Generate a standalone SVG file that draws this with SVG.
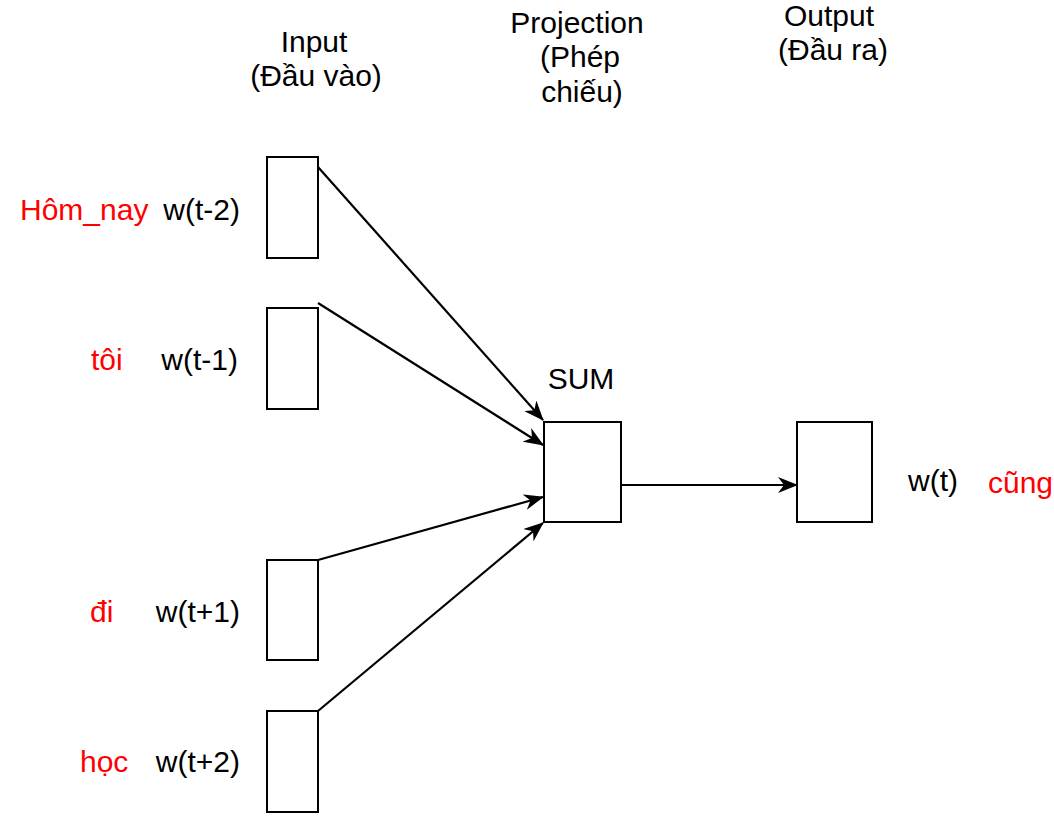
<svg xmlns="http://www.w3.org/2000/svg" width="1054" height="838" viewBox="0 0 1054 838">
  <style>
    .box { fill: #ffffff; stroke: #000000; stroke-width: 2; }
    .edge { fill: none; stroke: #000000; stroke-width: 2.2; }
    text { font-family: "Liberation Sans", Arial, Helvetica, sans-serif; font-size: 30px; fill: #000000; }
    .red { fill: #ff0000; }
    .mid { text-anchor: middle; }
    .end { text-anchor: end; }
  </style>
  <defs>
    <marker id="arrow" viewBox="0 0 20 16" markerWidth="20" markerHeight="16" refX="19" refY="8" orient="auto" markerUnits="userSpaceOnUse">
      <path d="M0,0 L20,8 L0,16 L6,8 Z" fill="#000000"/>
    </marker>
  </defs>
  <rect width="1054" height="838" fill="#ffffff"/>

  <g id="headers">
    <text class="mid" x="314" y="52">Input</text>
    <text class="mid" x="316" y="86">(Đầu vào)</text>
    <text class="mid" x="577" y="33">Projection</text>
    <text class="mid" x="580" y="67">(Phép</text>
    <text class="mid" x="582" y="102">chiếu)</text>
    <text class="mid" x="829" y="26">Output</text>
    <text class="mid" x="833" y="60">(Đầu ra)</text>
  </g>

  <g id="connectors">
    <line class="edge" x1="318" y1="167" x2="543" y2="420" marker-end="url(#arrow)"/>
    <line class="edge" x1="318" y1="303" x2="543" y2="445" marker-end="url(#arrow)"/>
    <line class="edge" x1="318" y1="560" x2="543" y2="497" marker-end="url(#arrow)"/>
    <line class="edge" x1="318" y1="711" x2="543" y2="523" marker-end="url(#arrow)"/>
    <line class="edge" x1="621" y1="485" x2="797" y2="485" marker-end="url(#arrow)"/>
  </g>

  <g id="input-w-t-2">
    <rect class="box" x="267" y="157" width="51" height="101"/>
    <text class="red" x="20" y="220">Hôm_nay</text>
    <text class="end" x="240" y="220">w(t-2)</text>
  </g>
  <g id="input-w-t-1">
    <rect class="box" x="267" y="308" width="51" height="101"/>
    <text class="red" x="91" y="370">tôi</text>
    <text class="end" x="238" y="370">w(t-1)</text>
  </g>
  <g id="input-w-t+1">
    <rect class="box" x="267" y="560" width="51" height="100"/>
    <text class="red" x="90" y="622">đi</text>
    <text class="end" x="240" y="622">w(t+1)</text>
  </g>
  <g id="input-w-t+2">
    <rect class="box" x="267" y="711" width="51" height="101"/>
    <text class="red" x="80" y="772">học</text>
    <text class="end" x="240" y="772">w(t+2)</text>
  </g>

  <g id="sum">
    <rect class="box" x="544" y="422" width="77" height="100"/>
    <text class="mid" x="581" y="389">SUM</text>
  </g>

  <g id="output">
    <rect class="box" x="797" y="422" width="75" height="100"/>
    <text x="908" y="491">w(t)</text>
    <text class="red" x="988" y="493">cũng</text>
  </g>
</svg>
